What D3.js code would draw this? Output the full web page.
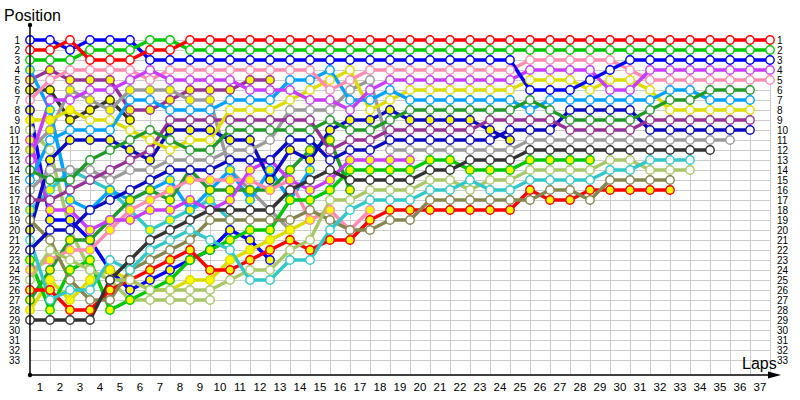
<!DOCTYPE html>
<html>
<head>
<meta charset="utf-8">
<script src="https://cdn.jsdelivr.net/npm/d3@7"></script>
<style>
  body { margin: 0; background: #fff; }
  svg { display: block; }
  text { font-family: "Liberation Sans", Arial, sans-serif; fill: #000; }
</style>
</head>
<body>
<svg id="chart" width="800" height="400"></svg>
<script>
(function () {
    'use strict';

    // lap 0 = grid position, then position at the end of each lap
    const lapLabels = d3.range(1, 38);
    const positions = d3.range(1, 34);

    const red1    = [2,2,1,3,3,3,2,2,1, 1,1,1,1,1,1,1,1,1,1, 1,1,1,1,1,1,1,1,1,1, 1,1,1,1,1,1,1,1,1];
    const green1  = [3,3,3,2,2,2,1,1,2, 2,2,2,2,2,2,2,2,2,2, 2,2,2,2,2,2,2,2,2,2, 2,2,2,2,2,2,2,2,2];
    const blue1   = [1,1,2,1,1,1, 3,3,3,3,3,3,3,3,3,3,3,3,3,3,3,3,3,3,3, 6,6,6,5,4, 3,3,3,3,3,3,3,3];
    const violet1 = [13,7,7,6,6,5,4,5, 5,5,5,6,6,6,7,7,8,6, 5,5,5,5,5,5,5, 4,4,4,4, 6,6, 4,4,4,4,4,4,4];
    const pink1   = [7,5,4,4,4,4,5,4, 4,4,4,4,4,4,4,6,5,4, 4,4,4,4,4,4,4, 3,3,3,3,3, 4, 5,5,5,5,5,5,5];
    const fgreen1 = [14,15,15,13,12,11,10,11, 12,12,10,10,10,10,10,9,10,10, 9, 8,8,8,8,8,8, 7, 8, 9,9,9,9, 8, 7,7, 6,6,6];
    const lblue1  = [15,11,10,10,10,7,7,8, 8,8,7,7,7,5,5,4,7,7, 6, 7,7,7,7,7,7, 8, 7,7,7,7,7,7, 6,6, 7,7,7];
    const yellow1 = [9,9,8,9,9,10,11,12, 11,11,8,8,8,7,6,5,4,8, 7, 6,6,6,6,6,6, 5,5,5, 6, 5,5, 6, 8,8,8,8,8];
    const dpurple1= [17,17,16,15,14,13,12,9, 9,9,9,9,9,9,9,12,11,11, 10,10,10,10,10, 9,9,9,9, 10,10,10,10, 9,9,9,9,9,9];
    const navy1   = [22,20,20,18,17,16,15,14, 14,14,13,13,13,11,11,13,12,12, 11,11,11,11,11,11, 10,10,10, 8,8,8,8, 10,10,10,10,10,10];
    const gray1   = [16,14,14,14,15,14,14,13, 13,13,12,12,11,8,8,8,6,5, 12,12,12,12,12,12,12, 11,11,11,11,11,11,11,11,11,11,11];
    const black1  = [29,29,29,29,25,23,21,20, 19,18,18,18,18,16,15,14,15,15, 15,15,14,14,13,13,13, 12,12,12,12,12,12,12,12,12,12];
    const cyan1   = [21,27,26,26,23,24,22,21, 20,21,22,25,25,23,23,20,18,17, 17,17,16,16,15,16,16, 15,15,15,15, 14,14, 13,13,13];
    const lolive1 = [25,22,23,24,25,25,26,26, 26,26,25,24,24,22,21,17,17,16, 16,16,15,15,16,15,15, 14,14,14,14, 13,13, 14,14,14];
    const olive1  = [19,21,25,27,27,24,23,22, 21,19,19,19,19,19,18,19,20,20, 19,19,17,17,17,17,17, 17,16,16,17, 15,15,15,15];
    const red2    = [26,26,28,28,26,25,24,23, 22,24,24,23,22,21,22,21,21,19, 18,18,18,18,18,18,18, 16,17,17,16,16,16,16,16];
    const green2  = [23,28,24,23,28,27,26,25, 23,22,21,20,20,17,17,16,14,14, 14,14,13,13,14,14,14, 13,13,13,13];
    const navy2   = [20,13,11,11,11,12,13,10, 10,10,11,11,15,12,13,10,9,9, 8,9,9,9,9,10,11];
    const violet2 = [11,18,18,20,19,19,18,18, 17,18,17,14,13,15,16,15,13,13, 13,13];
    const dpurple2= [5,4,5,5,5,8,8,7, 6,6,6,5,5];
    const black2  = [6,6,9,8,7,9];
    const lblue2  = [4,8,17,18,16,17,16,15, 18,16,14,17,14,17,14];
    const gray2   = [12,10,6,7,8,6,6,6, 7,7,14,16,18,20];
    const yellow2 = [28,25,27,25,24,25,26,26, 25,25,23,22,21,20,19,18];
    const cyan2   = [18,16,14,15,16,18,20,19, 18,17,19];
    const fgreen2 = [27,24,21,21,19,17,16,17, 14,16,16,16,16,14,12,11,16];
    const blue2   = [8,19,19,21,24,26,25,24, 23,22,20,21,23];
    const pink2   = [24,23,22,22,20,18,17,16, 15,15,15,15,16,15,19,18,20,18];
    const lolive2 = [10,12,20,24,25,27,27,27,27,27];

    // tyre stints: [from lap, compound]  W = white marker, Y = yellow marker
    const yellow1Tyres = [[0, 'Y'], [3, 'W']];

    const teamColor = d3.scaleOrdinal()
        .domain(['red', 'green', 'blue', 'violet', 'pink', 'fgreen', 'lblue', 'yellow',
                 'dpurple', 'navy', 'gray', 'black', 'cyan', 'lolive', 'olive'])
        .range(['#ff0000', '#00c800', '#0000ff', '#c83cff', '#ff8cb0', '#229a2a', '#00a2ff', '#dcdc00',
                '#963296', '#0a0ac0', '#9a9a9a', '#333333', '#33c8c8', '#a8c868', '#86864e']);
    const tyreFill = d3.scaleOrdinal().domain(['W', 'Y']).range(['#ffffff', '#ffff00']);

    const drivers = [
        { team: 'lolive', pos: lolive2, tyres: [[0, 'W']] },
        { team: 'black', pos: black2, tyres: [[0, 'Y']] },
        { team: 'cyan', pos: cyan2, tyres: [[0, 'Y']] },
        { team: 'blue', pos: blue2, tyres: [[0, 'Y']] },
        { team: 'dpurple', pos: dpurple2, tyres: [[0, 'Y']] },
        { team: 'gray', pos: gray2, tyres: [[0, 'Y']] },
        { team: 'lblue', pos: lblue2, tyres: [[0, 'Y']] },
        { team: 'yellow', pos: yellow2, tyres: [[0, 'Y']] },
        { team: 'fgreen', pos: fgreen2, tyres: [[0, 'Y']] },
        { team: 'pink', pos: pink2, tyres: [[0, 'Y']] },
        { team: 'violet', pos: violet2, tyres: [[0, 'Y']] },
        { team: 'navy', pos: navy2, tyres: [[0, 'Y']] },
        { team: 'green', pos: green2, tyres: [[0, 'Y']] },
        { team: 'red', pos: red2, tyres: [[0, 'Y']] },
        { team: 'olive', pos: olive1, tyres: [[0, 'W']] },
        { team: 'lolive', pos: lolive1, tyres: [[0, 'W']] },
        { team: 'cyan', pos: cyan1, tyres: [[0, 'W']] },
        { team: 'black', pos: black1, tyres: [[0, 'W']] },
        { team: 'gray', pos: gray1, tyres: [[0, 'W']] },
        { team: 'navy', pos: navy1, tyres: [[0, 'W']] },
        { team: 'dpurple', pos: dpurple1, tyres: [[0, 'W']] },
        { team: 'yellow', pos: yellow1, tyres: yellow1Tyres },
        { team: 'lblue', pos: lblue1, tyres: [[0, 'W']] },
        { team: 'fgreen', pos: fgreen1, tyres: [[0, 'W']] },
        { team: 'pink', pos: pink1, tyres: [[0, 'W']] },
        { team: 'violet', pos: violet1, tyres: [[0, 'W']] },
        { team: 'blue', pos: blue1, tyres: [[0, 'W']] },
        { team: 'green', pos: green1, tyres: [[0, 'W']] },
        { team: 'red', pos: red1, tyres: [[0, 'W']] }
    ];

    function tyreAt(d, lap) {
        let c = d.tyres[0][1];
        d.tyres.forEach(function (s) { if (lap >= s[0]) { c = s[1]; } });
        return c;
    }

    const svg = d3.select('#chart');
    const x = d3.scaleLinear().domain([0, 37]).range([30, 770]);
    const y = d3.scaleLinear().domain([1, 33]).range([40, 360]);
    const lapBand = d3.scaleBand().domain(lapLabels).range([x(0), x(37)]);
    const axisY = 375;

    // grid
    const grid = svg.append('g').attr('stroke', '#cccccc').attr('stroke-width', 1);
    grid.selectAll('line.h')
        .data(positions)
        .enter().append('line')
        .attr('x1', x(0)).attr('x2', x(37))
        .attr('y1', function (d) { return y(d) + 0.5; })
        .attr('y2', function (d) { return y(d) + 0.5; });
    grid.selectAll('line.v')
        .data(lapLabels)
        .enter().append('line')
        .attr('x1', function (d) { return x(d) + 0.5; })
        .attr('x2', function (d) { return x(d) + 0.5; })
        .attr('y1', y(1)).attr('y2', axisY);

    // axis labels
    const leftAxis = svg.append('g')
        .attr('transform', 'translate(' + x(0) + ',0)')
        .call(d3.axisLeft(y).tickValues(positions).tickSize(0).tickPadding(10).tickFormat(d3.format('d')));
    const rightAxis = svg.append('g')
        .attr('transform', 'translate(' + x(37) + ',0)')
        .call(d3.axisRight(y).tickValues(positions).tickSize(0).tickPadding(7).tickFormat(d3.format('d')));
    const bottomAxis = svg.append('g')
        .attr('transform', 'translate(0,' + axisY + ')')
        .call(d3.axisBottom(lapBand).tickSize(0).tickPadding(8));
    [leftAxis, rightAxis, bottomAxis].forEach(function (a) {
        a.select('.domain').remove();
        a.selectAll('text').style('font-family', '"Liberation Sans", Arial, sans-serif');
    });
    leftAxis.selectAll('text').style('font-size', '10px');
    rightAxis.selectAll('text').style('font-size', '10px');
    bottomAxis.selectAll('text').style('font-size', '11.5px');

    // driver lines
    const line = d3.line()
        .x(function (d, i) { return x(i); })
        .y(function (d) { return y(d); });

    svg.append('g').selectAll('path')
        .data(drivers)
        .enter().append('path')
        .attr('d', function (d) { return line(d.pos); })
        .attr('fill', 'none')
        .attr('stroke', function (d) { return teamColor(d.team); })
        .attr('stroke-width', 3.5)
        .attr('stroke-linejoin', 'round');

    const marks = svg.append('g').selectAll('g')
        .data(drivers)
        .enter().append('g');
    marks.selectAll('circle')
        .data(function (d) {
            return d.pos.map(function (p, i) { return { lap: i, pos: p, drv: d }; });
        })
        .enter().append('circle')
        .attr('cx', function (d) { return x(d.lap); })
        .attr('cy', function (d) { return y(d.pos); })
        .attr('r', 4.2)
        .attr('fill', function (d) { return tyreFill(tyreAt(d.drv, d.lap)); })
        .attr('stroke', function (d) { return teamColor(d.drv.team); })
        .attr('stroke-width', 1.4);

    // axes lines
    svg.append('line')
        .attr('x1', x(0)).attr('x2', x(0)).attr('y1', 25).attr('y2', axisY)
        .attr('stroke', '#000').attr('stroke-width', 1.5);
    svg.append('line')
        .attr('x1', x(0)).attr('x2', 772).attr('y1', axisY).attr('y2', axisY)
        .attr('stroke', '#000').attr('stroke-width', 1.5);
    svg.append('path')
        .attr('d', 'M768,371.5 L781,375 L768,378.5 Z')
        .attr('fill', '#000');
    svg.append('circle').attr('cx', x(0)).attr('cy', 25).attr('r', 2.2).attr('fill', '#000');
    svg.append('circle').attr('cx', x(0)).attr('cy', axisY).attr('r', 2.2).attr('fill', '#000');

    svg.append('text').attr('x', 4).attr('y', 21).style('font-size', '16px').text('Position');
    svg.append('text').attr('x', 742).attr('y', 369).style('font-size', '16px').text('Laps');
})();
</script>
</body>
</html>
